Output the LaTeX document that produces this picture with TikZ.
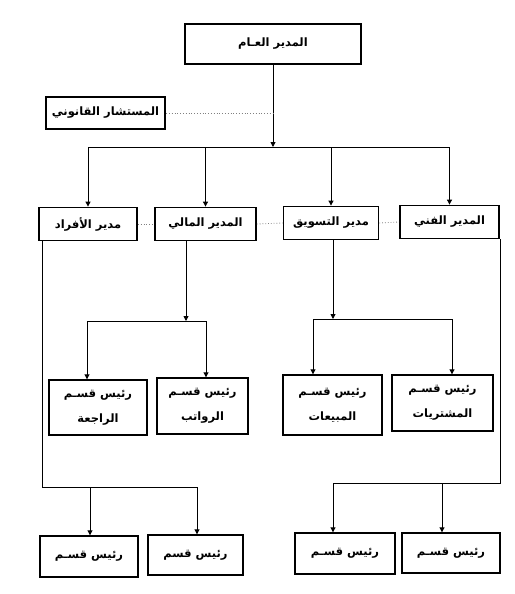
\documentclass[tikz,border=0pt]{standalone}
\usepackage{fontspec}
\newfontfamily\arabicfont[Script=Arabic]{DejaVu Sans}
\TeXXeTstate=1
\usetikzlibrary{arrows.meta}
\newcommand{\artxt}[1]{\beginR #1\endR}
\begin{document}
\begin{tikzpicture}[x=1pt,y=-1pt,
  box/.style={draw, fill=white, inner sep=0pt, align=center,
    font=\arabicfont\bfseries\fontsize{11.5}{25}\selectfont},
  boxA/.style={box, line width=2.2pt},
  boxB/.style={box, line width=1.8pt},
  boxC/.style={box, line width=1.4pt},
  conn/.style={line width=0.9pt},
  arr/.style={conn, -{Triangle[length=5pt,width=5pt]}},
  dots/.style={line width=0.8pt, dotted, gray}]
\useasboundingbox (0,0) rectangle (514,594);
\fill[white] (0,0) rectangle (514,594);

% top level
\node[boxA, minimum width=176pt, minimum height=40pt] (top) at (273,44) {\artxt{المدير العـام}};
\node[boxA, minimum width=119pt, minimum height=32pt] (legal) at (105.5,113) {\artxt{المستشار القانوني}};

% row 2
\node[boxB, minimum width=98pt, minimum height=33pt] (r2a) at (88,224) {\artxt{مدير الأفراد}};
\node[boxB, minimum width=101pt, minimum height=33pt] (r2b) at (205.5,224) {\artxt{المدير المالي}};
\node[boxB, minimum width=95pt, minimum height=33pt] (r2c) at (331,223) {\artxt{مدير التسويق}};
\node[boxB, minimum width=99pt, minimum height=33pt] (r2d) at (449.5,222) {\artxt{المدير الفني}};

% row 3
\node[boxC, minimum width=98pt, minimum height=55pt] (r3a) at (98,407.5) {\artxt{رئيس قسـم}\\ \artxt{الراجعة}};
\node[boxC, minimum width=91pt, minimum height=56pt] (r3b) at (202.5,406) {\artxt{رئيس قسـم}\\ \artxt{الرواتب}};
\node[boxC, minimum width=99pt, minimum height=60pt] (r3c) at (332.5,405) {\artxt{رئيس قسـم}\\ \artxt{المبيعات}};
\node[boxC, minimum width=101pt, minimum height=56pt] (r3d) at (442.5,403) {\artxt{رئيس قسـم}\\ \artxt{المشتريات}};

% row 4
\node[boxC, minimum width=98pt, minimum height=41pt] (r4a) at (89,556.5) {\artxt{رئيس قسـم}};
\node[boxC, minimum width=95pt, minimum height=40pt] (r4b) at (195.5,555) {\artxt{رئيس قسم}};
\node[boxC, minimum width=100pt, minimum height=41pt] (r4c) at (345,553.5) {\artxt{رئيس قسـم}};
\node[boxC, minimum width=98pt, minimum height=40pt] (r4d) at (451,553) {\artxt{رئيس قسـم}};

% coordinates
\coordinate (j1) at (273,147);
\coordinate (b1L) at (88,147);
\coordinate (b1R) at (449.5,147);
\coordinate (m2) at (186,321);
\coordinate (b2L) at (87,321);
\coordinate (b2R) at (206,321);
\coordinate (m3) at (333,319);
\coordinate (b3L) at (313,319);
\coordinate (b3R) at (452,319);
\coordinate (lv) at (42,487);
\coordinate (b4a) at (90,487);
\coordinate (b4b) at (197,487);
\coordinate (rv) at (500,483);
\coordinate (b4c) at (333,483);
\coordinate (b4d) at (442,483);

% top connectors
\draw[arr] (top.south) -- (j1);
\draw[dots] (legal.east) -- (legal.east -| top.south);
\draw[conn] (b1L) -- (b1R);
\foreach \n in {r2a,r2b,r2c,r2d} \draw[arr] (b1L -| \n.north) -- (\n.north);
\draw[dots] (r2a.east) -- (r2b.west);
\draw[dots] (r2b.east) -- (r2c.west);
\draw[dots] (r2c.east) -- (r2d.west);

% finance group
\draw[arr] (r2b.south -| m2) -- (m2);
\draw[conn] (b2L) -- (b2R);
\draw[arr] (b2L) -- (b2L |- r3a.north);
\draw[arr] (b2R) -- (b2R |- r3b.north);

% marketing group
\draw[arr] (r2c.south -| m3) -- (m3);
\draw[conn] (b3L) -- (b3R);
\draw[arr] (b3L) -- (b3L |- r3c.north);
\draw[arr] (b3R) -- (b3R |- r3d.north);

% long left branch
\draw[conn] (r2a.south -| lv) -- (lv) -- (b4b);
\draw[arr] (b4a) -- (b4a |- r4a.north);
\draw[arr] (b4b) -- (b4b |- r4b.north);

% long right branch
\draw[conn] (r2d.south -| rv) -- (rv) -- (b4c);
\draw[arr] (b4c) -- (b4c |- r4c.north);
\draw[arr] (b4d) -- (b4d |- r4d.north);
\end{tikzpicture}
\end{document}
